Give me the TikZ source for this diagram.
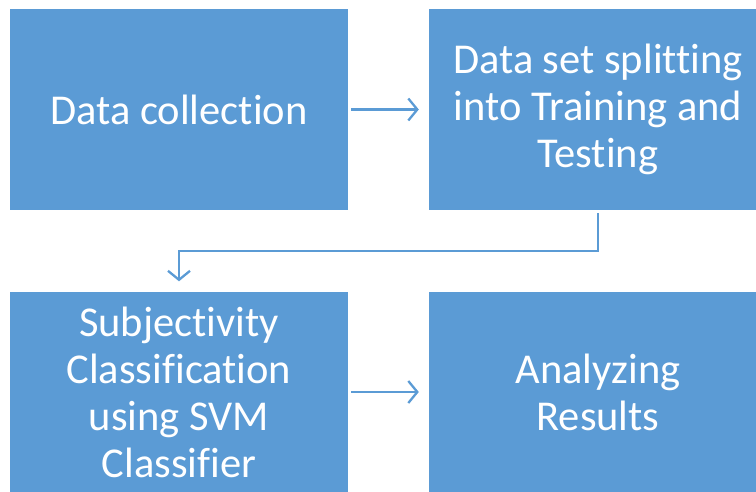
\documentclass[tikz,border=0pt]{standalone}
\usepackage{fontspec}
\setmainfont{Carlito}[RawFeature={-liga;-clig;-calt;-dlig}]
\usetikzlibrary{arrows.meta}
\definecolor{stepblue}{HTML}{5B9BD5}

\begin{document}
\begin{tikzpicture}[x=1pt, y=-1pt,
        stage/.style={fill=stepblue, draw=none, text=white, align=center,
            minimum width=338pt, minimum height=201pt, inner sep=0pt,
            font=\fontsize{42.5}{47}\selectfont},
        link/.style={draw=stepblue, line width=2.3pt,
            -{Straight Barb[length=9pt, width=22pt, line width=2.3pt]},
            shorten <=3pt, shorten >=10pt}]
        \useasboundingbox (0, 0) rectangle (756, 491);
        \node[stage] (00) at (179, 109.5) {Data collection};
        \node[stage] (01) at (598, 109.5) {Data set splitting\\into Training and\\Testing};
        \node[stage] (10) at (179, 392) {Subjectivity\\Classification\\using SVM\\Classifier};
        \node[stage] (11) at (598, 392) {Analyzing\\Results};
        \draw[link] (00) -- (01);
        \draw[link] (01.south) -- ++(0, 41) -| (10.north);
        \draw[link] (10) -- (11);
    \end{tikzpicture}
\end{document}
